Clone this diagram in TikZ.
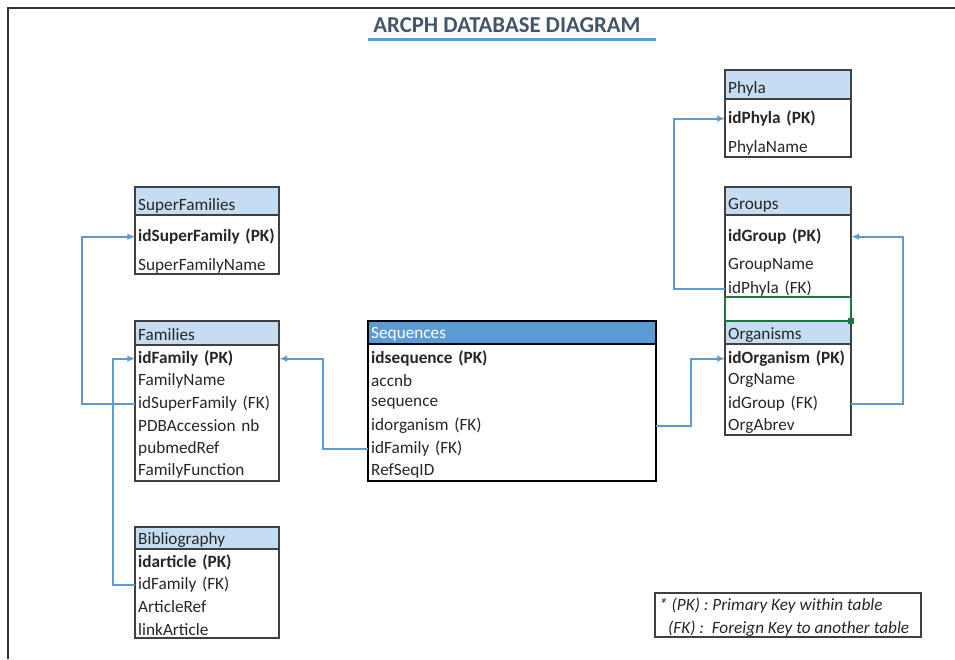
\documentclass[tikz,border=0pt]{standalone}
\usepackage{fontspec}
\setmainfont{Carlito}
\usetikzlibrary{arrows.meta, calc}
\definecolor{hdrlight}{RGB}{197,221,242}
\definecolor{hdrdark}{RGB}{91,155,213}
\definecolor{linkblue}{RGB}{91,155,213}
\definecolor{titlegray}{RGB}{68,84,106}
\definecolor{selgreen}{RGB}{33,115,70}
\newcommand\tabfont{\fontsize{14.7}{17}\selectfont}
\tikzset{tblbox/.style={draw=black!75,line width=1.2pt}}
\tikzset{seqbox/.style={draw=black,line width=2pt}}
\tikzset{fld/.style={anchor=west,inner xsep=0.09cm,inner ysep=0pt,yshift=-0.05cm,text width=#1,text=black!85,font=\tabfont,
  execute at begin node={\hbox to 0pt\bgroup}, execute at end node={\hss\egroup}}}
\tikzset{key/.style={fld=#1,font=\tabfont\bfseries}}
\tikzset{link/.style={draw=linkblue,line width=1.7pt,-{Latex[length=2.3mm,width=2mm]}}}

\begin{document}
\begin{tikzpicture}[x=0.03cm,y=-0.03cm]
\useasboundingbox (0,0) rectangle (955,659);

% page frame and title
\draw[black!80,line width=0.065cm] (8,659) -- (8,8) -- (955,8);
\node[font=\fontsize{19.4}{22}\selectfont\bfseries,text=titlegray] (title) at (507,25) {ARCPH DATABASE DIAGRAM};
\draw[linkblue,line width=0.09cm] (368,39) -- (656,39);

% SuperFamilies
\fill[hdrlight] (135,187) rectangle (279,215);
\draw[tblbox] (135,215) -- (279,215);
\node[fld=4.14cm] (sfHead) at (135,204) {SuperFamilies};
\node[key=4.14cm] (sfId) at (135,235) {idSuperFamily (PK)};
\node[fld=4.14cm] (sfName) at (135,264) {SuperFamilyName};
\draw[tblbox] (135,187) rectangle (279,274);

% Families
\fill[hdrlight] (135,321) rectangle (279,345);
\draw[tblbox] (135,345) -- (279,345);
\node[fld=4.14cm] (famHead) at (135,333) {Families};
\node[key=4.14cm] (famId) at (135,357) {idFamily (PK)};
\node[fld=4.14cm] (famName) at (135,379) {FamilyName};
\node[fld=4.14cm] (famSup) at (135,402) {idSuperFamily (FK)};
\node[fld=4.14cm] (famPdb) at (135,424) {PDBAccession nb};
\node[fld=4.14cm] (famPub) at (135,447) {pubmedRef};
\node[fld=4.14cm] (famFun) at (135,469) {FamilyFunction};
\draw[tblbox] (135,321) rectangle (279,481);

% Bibliography
\fill[hdrlight] (135,527) rectangle (279,549);
\draw[tblbox] (135,549) -- (279,549);
\node[fld=4.14cm] (bibHead) at (135,538) {Bibliography};
\node[key=4.14cm] (bibId) at (135,561) {idarticle (PK)};
\node[fld=4.14cm] (bibFam) at (135,583) {idFamily (FK)};
\node[fld=4.14cm] (bibRef) at (135,605) {ArticleRef};
\node[fld=4.14cm] (bibLink) at (135,628) {linkArticle};
\draw[tblbox] (135,527) rectangle (279,638);

% Sequences
\fill[hdrdark] (368,321) rectangle (656,344);
\draw[black,line width=1.2pt] (368,344) -- (656,344);
\node[fld=8.46cm,text=white] (seqHead) at (368,333) {Sequences};
\node[key=8.46cm] (seqId) at (368,357) {idsequence (PK)};
\node[fld=8.46cm] (seqAcc) at (368,379) {accnb};
\node[fld=8.46cm] (seqSeq) at (368,402) {sequence};
\node[fld=8.46cm] (seqOrg) at (368,424) {idorganism (FK)};
\node[fld=8.46cm] (seqFam) at (368,447) {idFamily (FK)};
\node[fld=8.46cm] (seqRef) at (368,469) {RefSeqID};
\draw[seqbox] (368,321) rectangle (656,481);

% Phyla
\fill[hdrlight] (725,70) rectangle (851,99);
\draw[tblbox] (725,99) -- (851,99);
\node[fld=3.6cm] (phyHead) at (725,87) {Phyla};
\node[key=3.6cm] (phyId) at (725,117) {idPhyla (PK)};
\node[fld=3.6cm] (phyName) at (725,146) {PhylaName};
\draw[tblbox] (725,70) rectangle (851,157);

% Groups and Organisms share one sheet
\fill[hdrlight] (725,187) rectangle (851,215);
\fill[hdrlight] (725,321) rectangle (851,344);
\draw[tblbox] (725,215) -- (851,215);
\draw[tblbox] (725,344) -- (851,344);
\node[fld=3.6cm] (grpHead) at (725,204) {Groups};
\node[key=3.6cm] (grpId) at (725,235) {idGroup (PK)};
\node[fld=3.6cm] (grpName) at (725,264) {GroupName};
\node[fld=3.6cm] (grpPhy) at (725,287) {idPhyla (FK)};
\node[fld=3.6cm] (orgHead) at (725,333) {Organisms};
\node[key=3.6cm] (orgId) at (725,357) {idOrganism (PK)};
\node[fld=3.6cm] (orgName) at (725,379) {OrgName};
\node[fld=3.6cm] (orgGrp) at (725,402) {idGroup (FK)};
\node[fld=3.6cm] (orgAbr) at (725,424) {OrgAbrev};
\draw[tblbox] (725,187) rectangle (851,435);
% selected cell
\draw[selgreen,line width=1.3pt] (725,297) rectangle (851,321);
\fill[selgreen] (848,318) rectangle (854,324);

% links between keys
\draw[link] (famSup.west) -- ++(-53,0) |- (sfId.west);
\draw[link] (bibFam.west) -- ++(-22,0) |- (famId.west);
\draw[link] (seqFam.west) -- ++(-45,0) |- (famId.east);
\draw[link] (seqOrg.east) -- ++(35,0) |- (orgId.west);
\draw[link] (grpPhy.west) -- ++(-51,0) |- (phyId.west);
\draw[link] (orgGrp.east) -- ++(52,0) |- (grpId.east);

% legend
\draw[tblbox] (655,593) rectangle (921,637);
\node[anchor=west,inner sep=0pt,font=\tabfont\itshape,text=black!85] (pkNote) at (659,606) {* (PK) : Primary Key within table};
\node[anchor=west,inner sep=0pt,font=\tabfont\itshape,text=black!85] (fkNote) at (668,629) {(FK) :\ \ Foreign Key to another table};
\end{tikzpicture}
\end{document}
